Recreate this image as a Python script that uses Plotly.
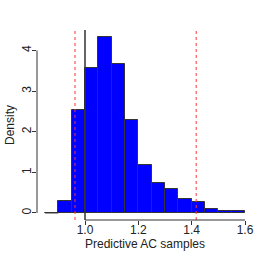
import plotly.graph_objects as go

bin_left = [0.85, 0.90, 0.95, 1.00, 1.05, 1.10, 1.15, 1.20, 1.25, 1.30, 1.35, 1.40, 1.45, 1.50, 1.55]
density = [0.0, 0.29, 2.54, 3.57, 4.32, 3.67, 2.30, 1.17, 0.74, 0.59, 0.35, 0.28, 0.09, 0.05, 0.04]
bin_width = 0.05
ref_line = 1.0
interval = [0.9625, 1.417]
x_ticks = [1.0, 1.2, 1.4, 1.6]
y_ticks = [0, 1, 2, 3, 4]
x_title = "Predictive AC samples"
y_title = "Density"

xr = [0.82, 1.63]
yr = [-0.173, 4.503]

centers = [b + bin_width / 2 for b in bin_left]

fig = go.Figure()
fig.add_trace(go.Bar(
    x=centers, y=density, width=[bin_width] * len(centers),
    marker=dict(color="#0000ff", line=dict(color="#333333", width=1)),
    showlegend=False, hoverinfo="skip"))

for b, d in zip(bin_left, density):
    if d == 0:
        fig.add_shape(type="line", x0=b, x1=b + bin_width, y0=0, y1=0,
                      line=dict(color="#333333", width=1))

fig.add_shape(type="line", x0=ref_line, x1=ref_line, y0=yr[0], y1=yr[1],
              line=dict(color="#333333", width=1.5))
for v in interval:
    fig.add_shape(type="line", x0=v, x1=v, y0=yr[0], y1=yr[1],
                  line=dict(color="#ff3333", width=1, dash="dot"))

fig.add_shape(type="line", xref="x", yref="paper", x0=x_ticks[0], x1=x_ticks[-1], y0=0, y1=0,
              line=dict(color="#333333", width=1))
fig.add_shape(type="line", xref="paper", yref="y", x0=0, x1=0, y0=y_ticks[0], y1=y_ticks[-1],
              line=dict(color="#333333", width=1))

font = dict(family="Liberation Sans, Arial, sans-serif", size=12, color="#222222")

fig.add_annotation(text=x_title, xref="paper", yref="paper", x=0.5, y=0, yshift=-24,
                   xanchor="center", yanchor="middle", showarrow=False, font=font)
fig.add_annotation(text=y_title, xref="paper", yref="paper", x=0, y=0.5, xshift=-27,
                   textangle=-90, xanchor="center", yanchor="middle", showarrow=False, font=font)

fig.update_layout(
    width=258, height=258,
    margin=dict(l=37, r=5, t=30, b=38),
    paper_bgcolor="white", plot_bgcolor="white",
    font=font, bargap=0,
    xaxis=dict(range=xr, tickvals=x_ticks, ticktext=[f"{t:.1f}" for t in x_ticks],
               showgrid=False, zeroline=False, showline=False, automargin=False,
               ticks="outside", ticklen=4, tickcolor="#333333", ticklabelstandoff=-5),
    yaxis=dict(range=yr, tickvals=y_ticks, tickangle=-90, automargin=False,
               showgrid=False, zeroline=False, showline=False,
               ticks="outside", ticklen=4, tickcolor="#333333", ticklabelstandoff=-4),
)
fig.write_html("out.html", config={"displayModeBar": False},
               post_script="document.body.style.margin='0';document.body.style.overflow='hidden';")
